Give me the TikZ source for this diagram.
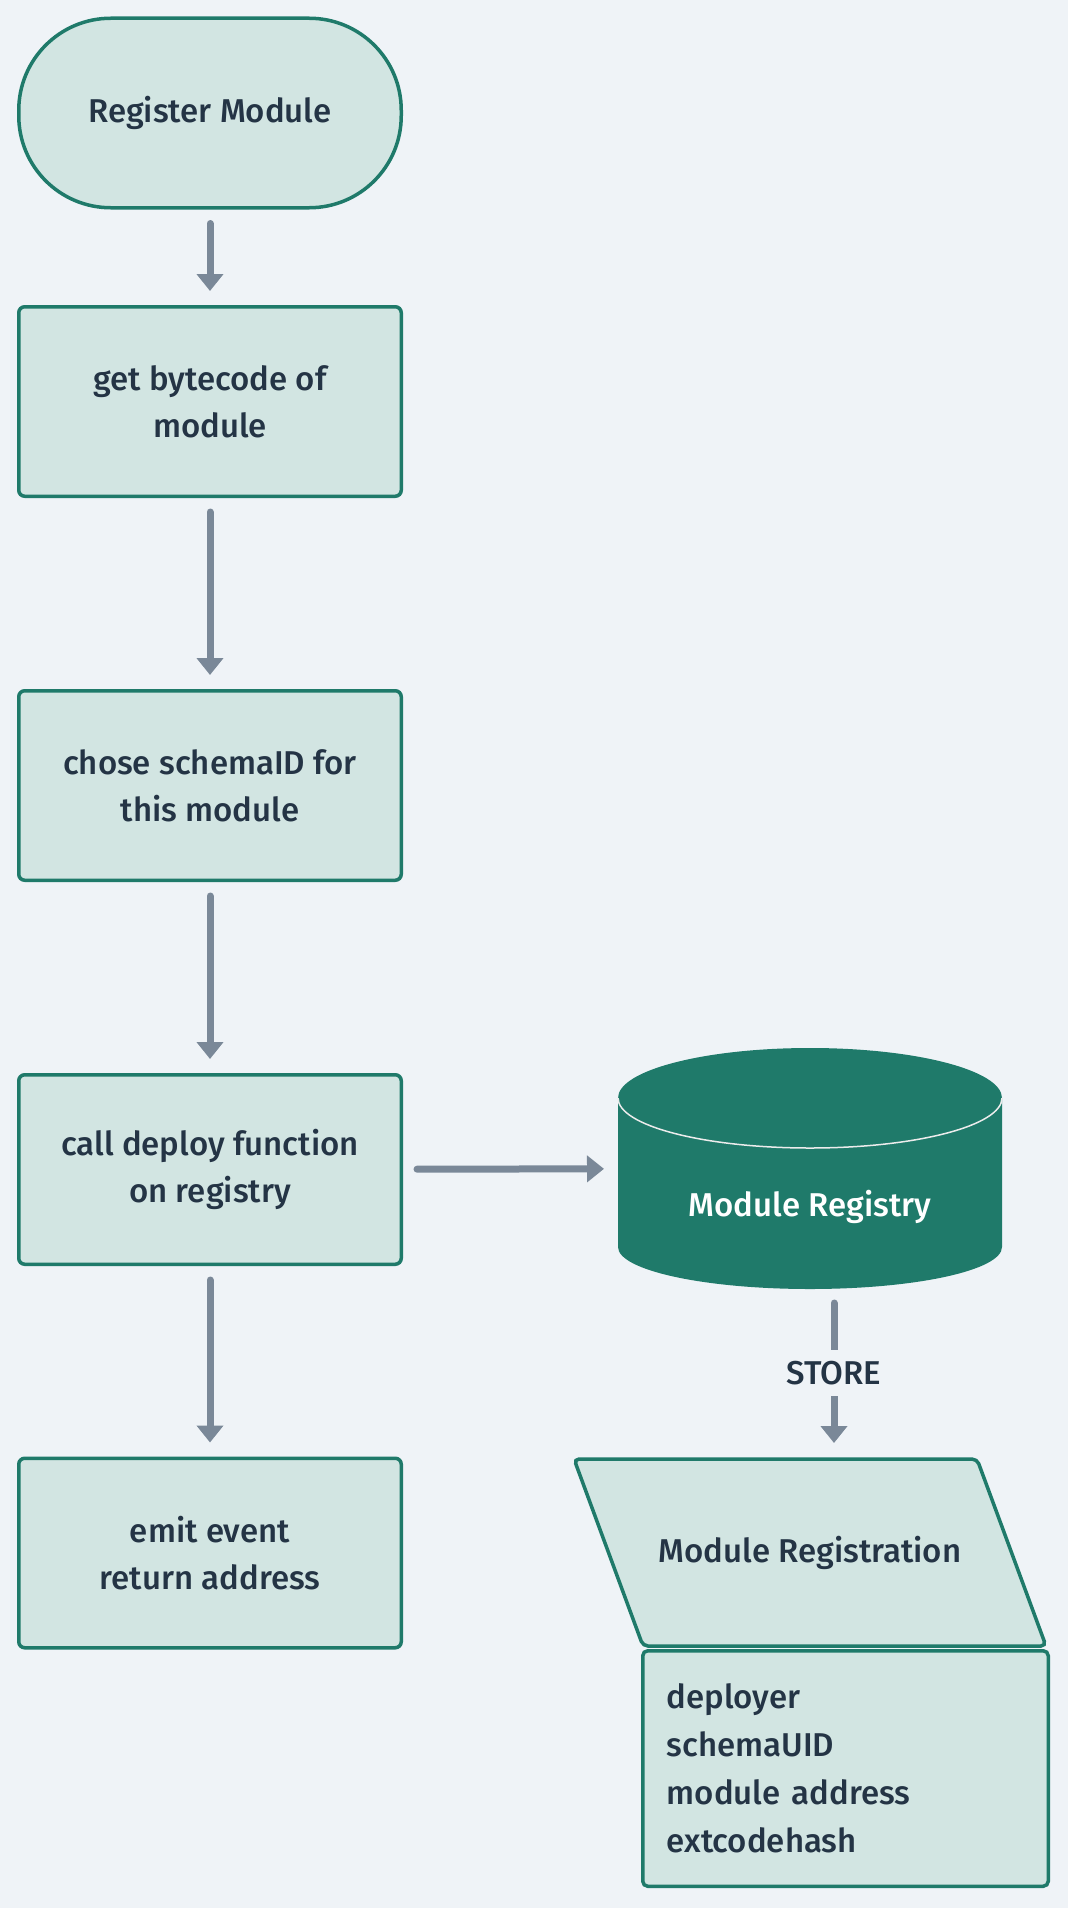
\documentclass[tikz,border=0pt]{standalone}
\usepackage{fontspec}
\setmainfont{Fira Sans Medium}
\usetikzlibrary{arrows.meta}

\definecolor{fond}{HTML}{EFF3F7}
\definecolor{remplis}{HTML}{D2E5E2}
\definecolor{bord}{HTML}{1F7A6A}
\definecolor{trait}{HTML}{7A8898}
\definecolor{texte}{HTML}{243445}

\begin{document}
\begin{tikzpicture}[x=1pt, y=-1pt]
			\tikzset{boite/.style={rectangle, rounded corners=6pt, draw=bord, fill=remplis, line width=3.5pt, minimum width=382.5pt, minimum height=189.5pt, align=center, text=texte, font=\fontsize{33}{47}\selectfont},
				debut/.style={boite, rounded corners=92pt},
				fleche/.style={>={Triangle[length=17pt, width=26pt]}, ->, draw=trait, line width=7pt, line cap=round, shorten <=14pt, shorten >=14pt}};

			\useasboundingbox[fill=fond] (0,0) rectangle (1068,1908);

			% base de donnees (cylindre)
			\fill[bord] (618,1098) -- (618,1247) arc[start angle=180, end angle=0, x radius=192, y radius=42] -- (1002,1098) arc[start angle=0, end angle=-180, x radius=192, y radius=50] -- cycle;
			\draw[white!85!gray, line width=1.5pt] (618,1098) arc[start angle=180, end angle=0, x radius=192, y radius=50];

			% enregistrement (parallelogramme)
			\draw[draw=bord, fill=remplis, line width=3.5pt, rounded corners=5pt] (574,1459) -- (977,1459) -- (1046,1646) -- (643,1646) -- cycle;

			\node[debut] (e0) at (210, 113) {Register Module};
			\node[boite] (e1) at (210, 401.5) {get bytecode of\\module};
			\node[boite] (e2) at (210, 785.5) {chose schemaID for\\this module};
			\node[boite] (e3) at (210,1169.5) {call deploy function\\on registry};
			\node[boite] (e4) at (210,1553) {emit event\\return address};

			\node[minimum width=384pt, minimum height=241pt, inner sep=0pt, outer sep=0pt] (reg) at (810,1168.5) {};
			\node[text=white, font=\fontsize{33}{47}\selectfont] (regtxt) at (810,1207) {Module Registry};

			\node[minimum width=476pt, minimum height=191pt, inner sep=0pt, outer sep=0pt, text=texte, font=\fontsize{33}{47}\selectfont] (enr) at (810,1552.5) {Module Registration};
			\node[boite, rounded corners=5pt, minimum width=405.5pt, minimum height=235.5pt, text width=357.5pt, inner xsep=24pt, align=left, font=\fontsize{33}{48}\selectfont] (chp) at (845.5,1768.5) {deployer\\schemaUID\\module address\\extcodehash};

			\draw[fleche] (e0) -- (e1);
			\draw[fleche] (e1) -- (e2);
			\draw[fleche] (e2) -- (e3);
			\draw[fleche] (e3) -- (reg);
			\draw[fleche] (e3) -- (e4);
			\draw[fleche] ([xshift=24pt]reg.south) -- node[fill=fond, text=texte, inner ysep=11pt, font=\fontsize{33}{47}\selectfont] (sto) {STORE} ([xshift=24pt]enr.north);

		\end{tikzpicture}
\end{document}
